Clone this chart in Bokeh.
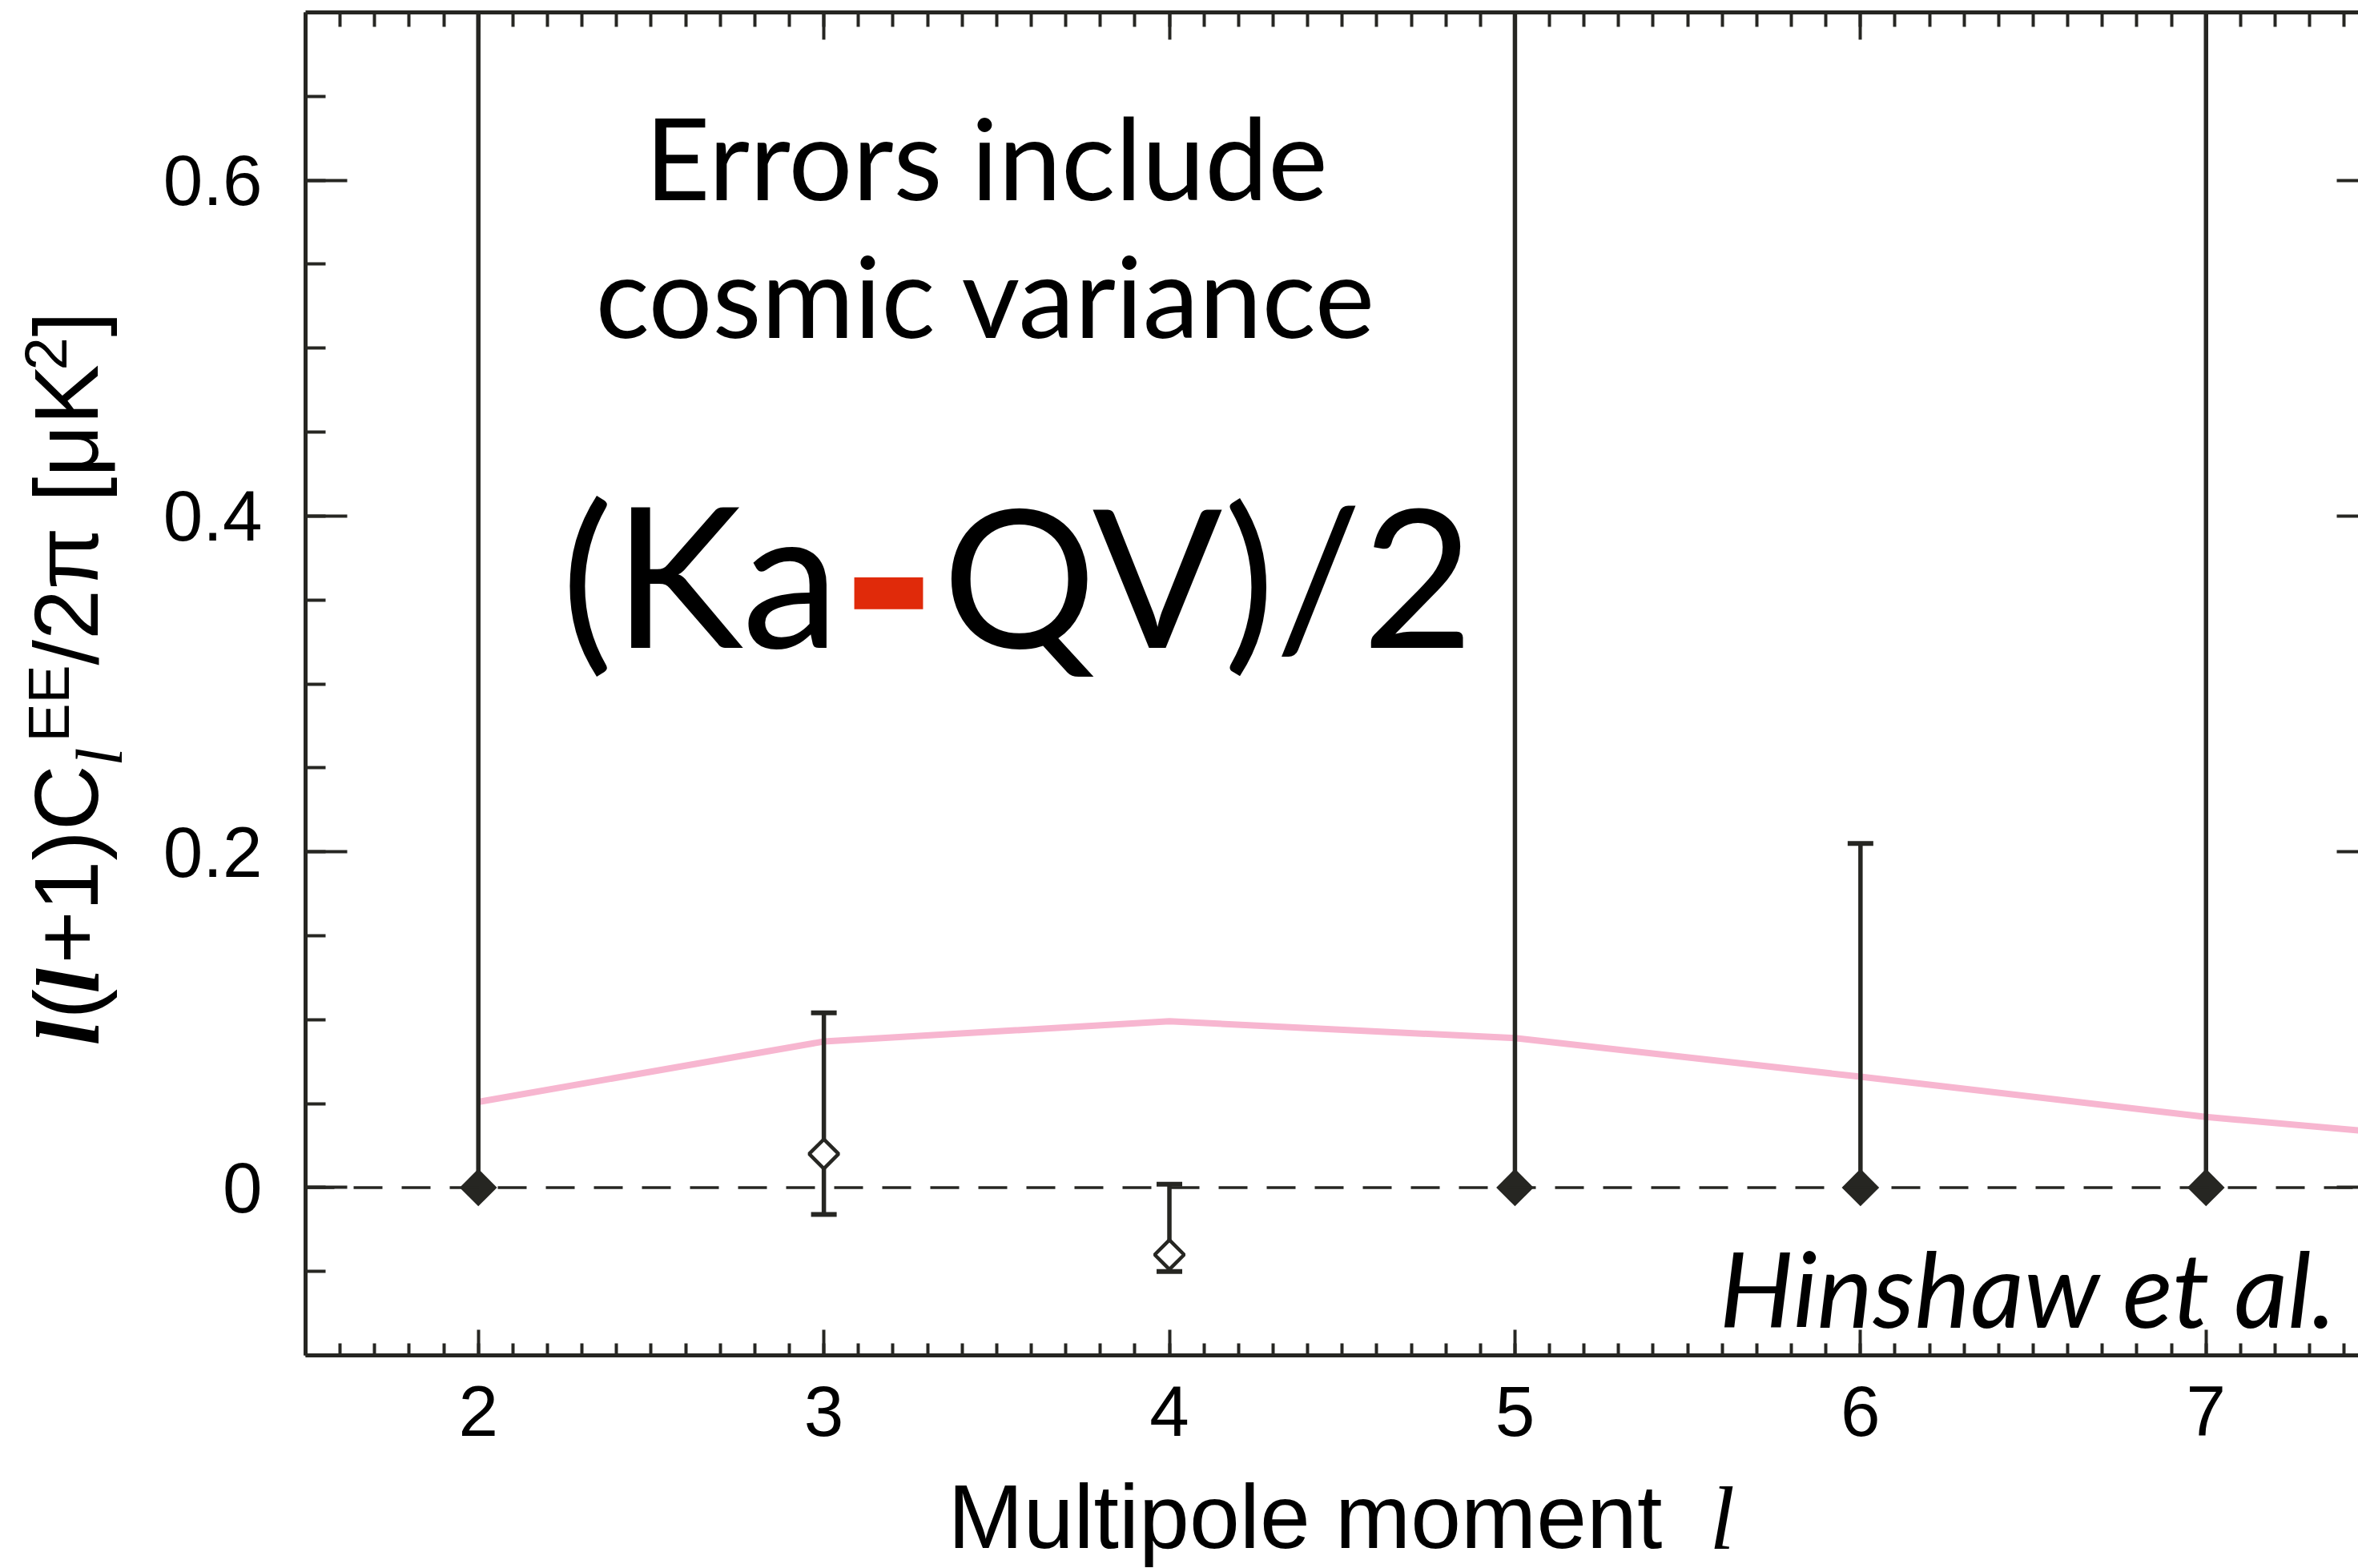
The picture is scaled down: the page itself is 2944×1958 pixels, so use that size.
import numpy as np
from bokeh.plotting import figure
from bokeh.layouts import row, column
from bokeh.models import (Range1d, LinearAxis, SingleIntervalTicker, Span, Label,
                          CustomJSTickFormatter)
from bokeh.embed import file_html
from bokeh.resources import INLINE

# ---------------- data ----------------
ell_theory = [2, 3, 4, 5, 6, 7, 8]
cl_theory = [0.051, 0.087, 0.099, 0.089, 0.066, 0.042, 0.024]

ell_det = [3, 4]                 # open diamonds (measured values)
cl_det = [0.020, -0.040]
lo_det = [-0.016, -0.050]
hi_det = [0.104, 0.002]

ell_lim = [2, 5, 6, 7]           # filled diamonds (set to zero, upper error)
cl_lim = [0.0, 0.0, 0.0, 0.0]
hi_lim = [1.0, 1.0, 0.205, 1.0]

y_tick_values = [0, 0.2, 0.4, 0.6]
y_tick_labels = ["0", "0.2", "0.4", "0.6"]

X_RANGE = (1.5, 7.441)
Y_RANGE = (-0.1, 0.7)

# ---------------- layout (page pixels) ----------------
W, H = 2944, 1958
YW = 190                      # left strip holding the y-axis title
HM = 1830                     # height of main figure
FL, FR, FT, FB = 381, 2944, 15, 1692
INK = "#262622"
PINK = "#f7b6d0"
RED = "#e02a0a"

# half (ascent - descent) of each font, in em: the offset of the text anchor
K = {"Lato": 0.387, "Liberation Sans": 0.3465, "Liberation Serif": 0.3375,
     "DejaVu Sans": 0.346}


def px2x(px):
    return X_RANGE[0] + (px - FL) * (X_RANGE[1] - X_RANGE[0]) / (FR - FL)


def px2y(py):
    return Y_RANGE[0] + (FB - py) * (Y_RANGE[1] - Y_RANGE[0]) / (FB - FT)


def bare(fig):
    fig.grid.grid_line_color = None
    fig.outline_line_color = None
    fig.background_fill_color = "white"
    fig.border_fill_color = "white"


# ---------------- main figure ----------------
p = figure(width=W - YW, height=HM, output_backend="svg", toolbar_location=None,
           x_range=Range1d(*X_RANGE), y_range=Range1d(*Y_RANGE),
           x_axis_location=None, y_axis_location=None,
           min_border_left=FL - YW, min_border_right=W - FR,
           min_border_top=FT, min_border_bottom=HM - FB)
bare(p)

blank = CustomJSTickFormatter(code="return ''")


def style_axis(ax, tin, tmin, line=True, minor=True):
    ax.major_tick_in = tin
    ax.major_tick_out = 0
    ax.minor_tick_in = tmin
    ax.minor_tick_out = 0
    ax.major_tick_line_width = 4
    ax.minor_tick_line_width = 4
    ax.major_tick_line_color = INK
    ax.minor_tick_line_color = INK if minor else None
    ax.axis_line_width = 5
    ax.axis_line_color = INK if line else None
    ax.major_label_text_font = "Liberation Sans"
    ax.major_label_text_font_size = "89px"
    ax.major_label_text_color = "black"


xb = LinearAxis(ticker=SingleIntervalTicker(interval=1, num_minor_ticks=10))
style_axis(xb, 32, 15)
xb.major_label_standoff = 38
p.add_layout(xb, "below")

xt = LinearAxis(ticker=SingleIntervalTicker(interval=1, num_minor_ticks=10), formatter=blank)
style_axis(xt, 34, 18)
xt.major_label_standoff = 0
p.add_layout(xt, "above")

yl = LinearAxis(ticker=SingleIntervalTicker(interval=0.2, num_minor_ticks=4))
style_axis(yl, 52, 25)
yl.major_label_standoff = 54
yl.major_label_overrides = dict(zip(y_tick_values, y_tick_labels))
p.add_layout(yl, "left")

yr = LinearAxis(ticker=SingleIntervalTicker(interval=0.2, num_minor_ticks=4), formatter=blank)
style_axis(yr, 27, 0, line=False, minor=False)
yr.major_label_standoff = 0
p.add_layout(yr, "right")

# marks
p.line(ell_theory, cl_theory, line_color=PINK, line_width=8)
p.add_layout(Span(location=0, dimension="width", line_color=INK, line_width=3.5,
                  line_dash="36 24"))

p.segment(x0=ell_lim, y0=cl_lim, x1=ell_lim, y1=hi_lim, line_color=INK, line_width=5.5)
p.segment(x0=ell_det, y0=lo_det, x1=ell_det, y1=hi_det, line_color=INK, line_width=5.5)
p.scatter(ell_lim, hi_lim, marker="dash", size=32, line_color=INK, line_width=6)
p.scatter(ell_det, hi_det, marker="dash", size=32, line_color=INK, line_width=6)
p.scatter(ell_det, lo_det, marker="dash", size=32, line_color=INK, line_width=6)

p.scatter(ell_lim, cl_lim, marker="square", angle=np.pi / 4, size=33,
          fill_color=INK, line_color=None)
p.scatter(ell_det, cl_det, marker="square", angle=np.pi / 4, size=26,
          fill_color="white", line_color=INK, line_width=4.5)


# ---------------- text helpers ----------------
def lab(fig, conv, text, px, py, font, size, style="normal", color="black",
        align="left", angle=0.0):
    """px, py: page pixels of the text baseline start (or centre)."""
    k = K[font] * size
    if angle == 0.0:
        py = py - k
    else:
        px = px - k
    x, y = conv(px, py)
    fig.add_layout(Label(x=x, y=y, text=text, text_font=font,
                         text_font_size=f"{size}px", text_font_style=style,
                         text_color=color, text_align=align,
                         text_baseline="alphabetic", angle=angle))


def main_conv(px, py):
    return px2x(px), px2y(py)


lab(p, main_conv, "Errors include", 1231, 250, "Lato", 141, align="center")
lab(p, main_conv, "cosmic variance", 1231, 422, "Lato", 141, align="center")

lab(p, main_conv, "(Ka", 700, 808, "Lato", 244)
lab(p, main_conv, "-", 1109, 815, "DejaVu Sans", 280, style="bold", color=RED,
    align="center")
lab(p, main_conv, "QV)/2", 1176, 808, "Lato", 240)

lab(p, main_conv, "Hinshaw et al.", 2146, 1658, "Lato", 131, style="italic")

# ---------------- y-axis title strip ----------------
ylab = figure(width=YW, height=H, output_backend="svg", toolbar_location=None,
              x_range=Range1d(0, YW), y_range=Range1d(0, H),
              x_axis_location=None, y_axis_location=None,
              min_border=0, min_border_left=0, min_border_right=0,
              min_border_top=0, min_border_bottom=0)
bare(ylab)


def ylab_conv(px, py):
    return px, H - py


R = np.pi / 2
SANS = "Liberation Sans"
SERIF = "Liberation Serif"
lab(ylab, ylab_conv, "l", 122, 1305, SERIF, 113, style="bold italic", angle=R)
lab(ylab, ylab_conv, "(", 122, 1272, SANS, 113, angle=R)
lab(ylab, ylab_conv, "l", 122, 1240, SERIF, 113, style="bold italic", angle=R)
lab(ylab, ylab_conv, "+1)C", 122, 1203, SANS, 113, angle=R)
lab(ylab, ylab_conv, "l", 152, 956, SERIF, 82, style="italic", angle=R)
lab(ylab, ylab_conv, "EE", 85, 926, SANS, 72, angle=R)
lab(ylab, ylab_conv, "/2π [μK", 122, 830, SANS, 113, angle=R)
lab(ylab, ylab_conv, "2", 83, 462, SANS, 74, angle=R)
lab(ylab, ylab_conv, "]", 122, 420, SANS, 113, angle=R)

# ---------------- x-axis title strip ----------------
xlab = figure(width=W - YW, height=H - HM, output_backend="svg", toolbar_location=None,
              x_range=Range1d(FL, FR), y_range=Range1d(0, H - HM),
              x_axis_location=None, y_axis_location=None,
              min_border=0, min_border_left=FL - YW, min_border_right=0,
              min_border_top=0, min_border_bottom=0)
bare(xlab)


def xlab_conv(px, py):
    return px, H - py


lab(xlab, xlab_conv, "Multipole moment", 1183, 1933, SANS, 113)
lab(xlab, xlab_conv, "l", 2134, 1933, SERIF, 113, style="italic")

layout = row(ylab, column(p, xlab, spacing=0), spacing=0)

open("out.html", "w").write(file_html(layout, INLINE))
